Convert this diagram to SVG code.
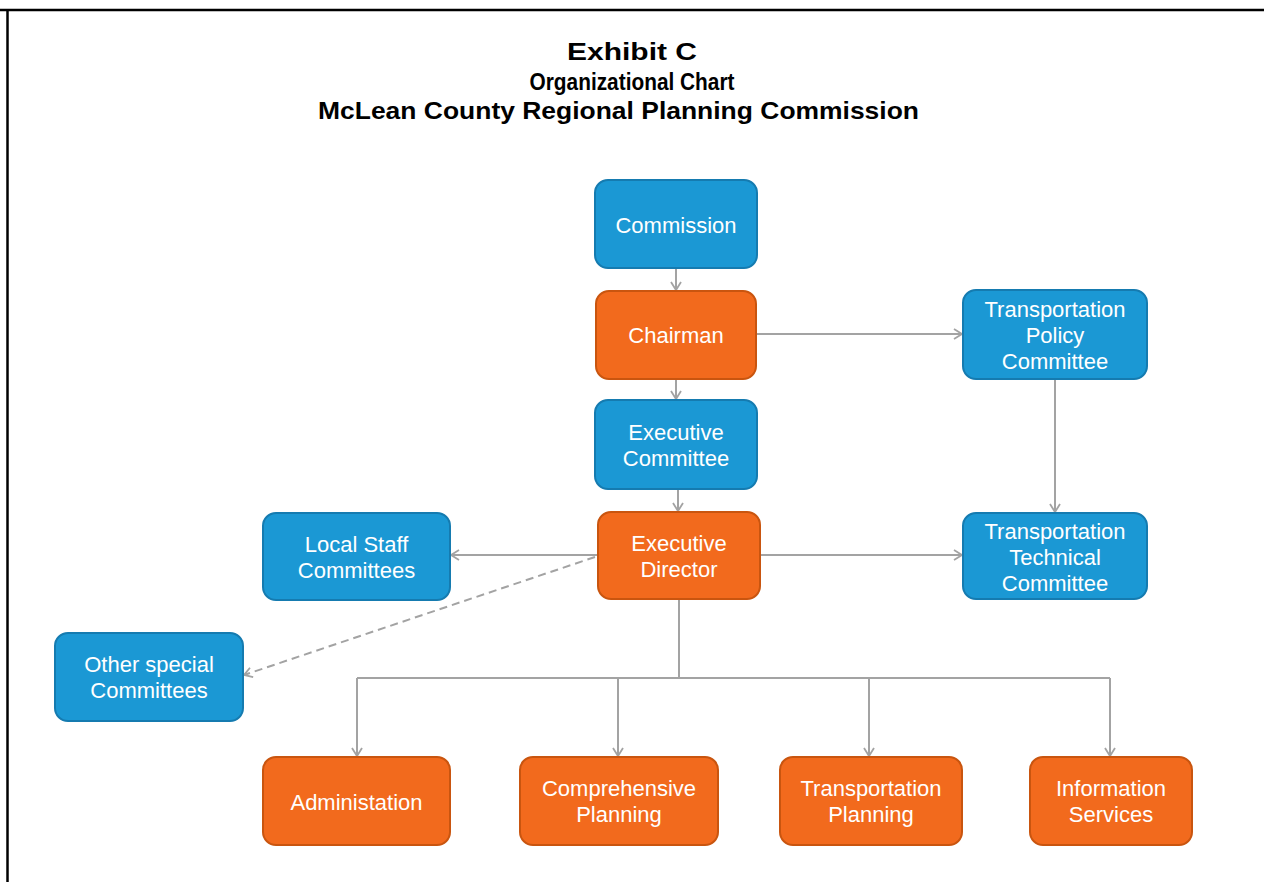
<svg xmlns="http://www.w3.org/2000/svg" width="1264" height="882" viewBox="0 0 1264 882">
<style>
.title{font-family:"Liberation Sans",Arial,sans-serif;font-weight:bold;font-size:24px;fill:#000;text-anchor:middle}
.blue rect{fill:#1b98d4;stroke:#157bb0;stroke-width:2}
.orange rect{fill:#f26a1d;stroke:#c9550f;stroke-width:2}
.node text{font-family:"Liberation Sans",Arial,sans-serif;font-size:22px;fill:#ffffff;text-anchor:middle}
.conn{fill:none;stroke:#a3a3a3;stroke-width:2}
.dash{stroke-dasharray:8 5}
</style>
<defs>
<marker id="arr" markerWidth="12" markerHeight="12" refX="10" refY="6" orient="auto" markerUnits="userSpaceOnUse">
<path d="M2,1 L10,6 L2,11" fill="none" stroke="#a3a3a3" stroke-width="1.8"/>
</marker>
</defs>
<rect x="0" y="0" width="1264" height="882" fill="#ffffff"/>
<g id="frame">
<line x1="0" y1="10" x2="1264" y2="10" stroke="#000" stroke-width="2.5"/>
<line x1="7.5" y1="10" x2="7.5" y2="882" stroke="#000" stroke-width="2.5"/>
</g>
<g id="title">
<text class="title" x="632" y="60" textLength="130" lengthAdjust="spacingAndGlyphs">Exhibit C</text>
<text class="title" x="632" y="90" textLength="205" lengthAdjust="spacingAndGlyphs">Organizational Chart</text>
<text class="title" x="618.5" y="119" textLength="601" lengthAdjust="spacingAndGlyphs">McLean County Regional Planning Commission</text>
</g>
<g id="connectors">
<line class="conn" x1="676" y1="268" x2="676" y2="290" marker-end="url(#arr)"/>
<line class="conn" x1="676" y1="379" x2="676" y2="399" marker-end="url(#arr)"/>
<line class="conn" x1="678" y1="489" x2="678" y2="511" marker-end="url(#arr)"/>
<line class="conn" x1="756" y1="334" x2="962" y2="334" marker-end="url(#arr)"/>
<line class="conn" x1="1055" y1="379" x2="1055" y2="512" marker-end="url(#arr)"/>
<line class="conn" x1="760" y1="555" x2="962" y2="555" marker-end="url(#arr)"/>
<line class="conn" x1="598" y1="555" x2="451" y2="555" marker-end="url(#arr)"/>
<line class="conn dash" x1="595" y1="557" x2="244" y2="675" marker-end="url(#arr)"/>
<polyline class="conn" points="679,599 679,678"/>
<polyline class="conn" points="357,678 1110,678"/>
<line class="conn" x1="357" y1="678" x2="357" y2="756" marker-end="url(#arr)"/>
<line class="conn" x1="618" y1="678" x2="618" y2="756" marker-end="url(#arr)"/>
<line class="conn" x1="869" y1="678" x2="869" y2="756" marker-end="url(#arr)"/>
<line class="conn" x1="1110" y1="678" x2="1110" y2="756" marker-end="url(#arr)"/>
</g>
<g id="commission" class="node blue"><rect x="595" y="180" width="162" height="88" rx="13"/><text x="676" y="233">Commission</text></g>
<g id="chairman" class="node orange"><rect x="596" y="291" width="160" height="88" rx="13"/><text x="676" y="343">Chairman</text></g>
<g id="transportation-policy-committee" class="node blue"><rect x="963" y="290" width="184" height="89" rx="13"/><text x="1055" y="317">Transportation</text><text x="1055" y="343">Policy</text><text x="1055" y="369">Committee</text></g>
<g id="executive-committee" class="node blue"><rect x="595" y="400" width="162" height="89" rx="13"/><text x="676" y="440">Executive</text><text x="676" y="466">Committee</text></g>
<g id="executive-director" class="node orange"><rect x="598" y="512" width="162" height="87" rx="13"/><text x="679" y="551">Executive</text><text x="679" y="577">Director</text></g>
<g id="transportation-technical-committee" class="node blue"><rect x="963" y="513" width="184" height="86" rx="13"/><text x="1055" y="539">Transportation</text><text x="1055" y="565">Technical</text><text x="1055" y="591">Committee</text></g>
<g id="local-staff-committees" class="node blue"><rect x="263" y="513" width="187" height="87" rx="13"/><text x="356.5" y="552">Local Staff</text><text x="356.5" y="578">Committees</text></g>
<g id="other-special-committees" class="node blue"><rect x="55" y="633" width="188" height="88" rx="13"/><text x="149" y="672">Other special</text><text x="149" y="698">Committees</text></g>
<g id="administration" class="node orange"><rect x="263" y="757" width="187" height="88" rx="13"/><text x="356.5" y="810">Administation</text></g>
<g id="comprehensive-planning" class="node orange"><rect x="520" y="757" width="198" height="88" rx="13"/><text x="619" y="796">Comprehensive</text><text x="619" y="822">Planning</text></g>
<g id="transportation-planning" class="node orange"><rect x="780" y="757" width="182" height="88" rx="13"/><text x="871" y="796">Transportation</text><text x="871" y="822">Planning</text></g>
<g id="information-services" class="node orange"><rect x="1030" y="757" width="162" height="88" rx="13"/><text x="1111" y="796">Information</text><text x="1111" y="822">Services</text></g>
</svg>
